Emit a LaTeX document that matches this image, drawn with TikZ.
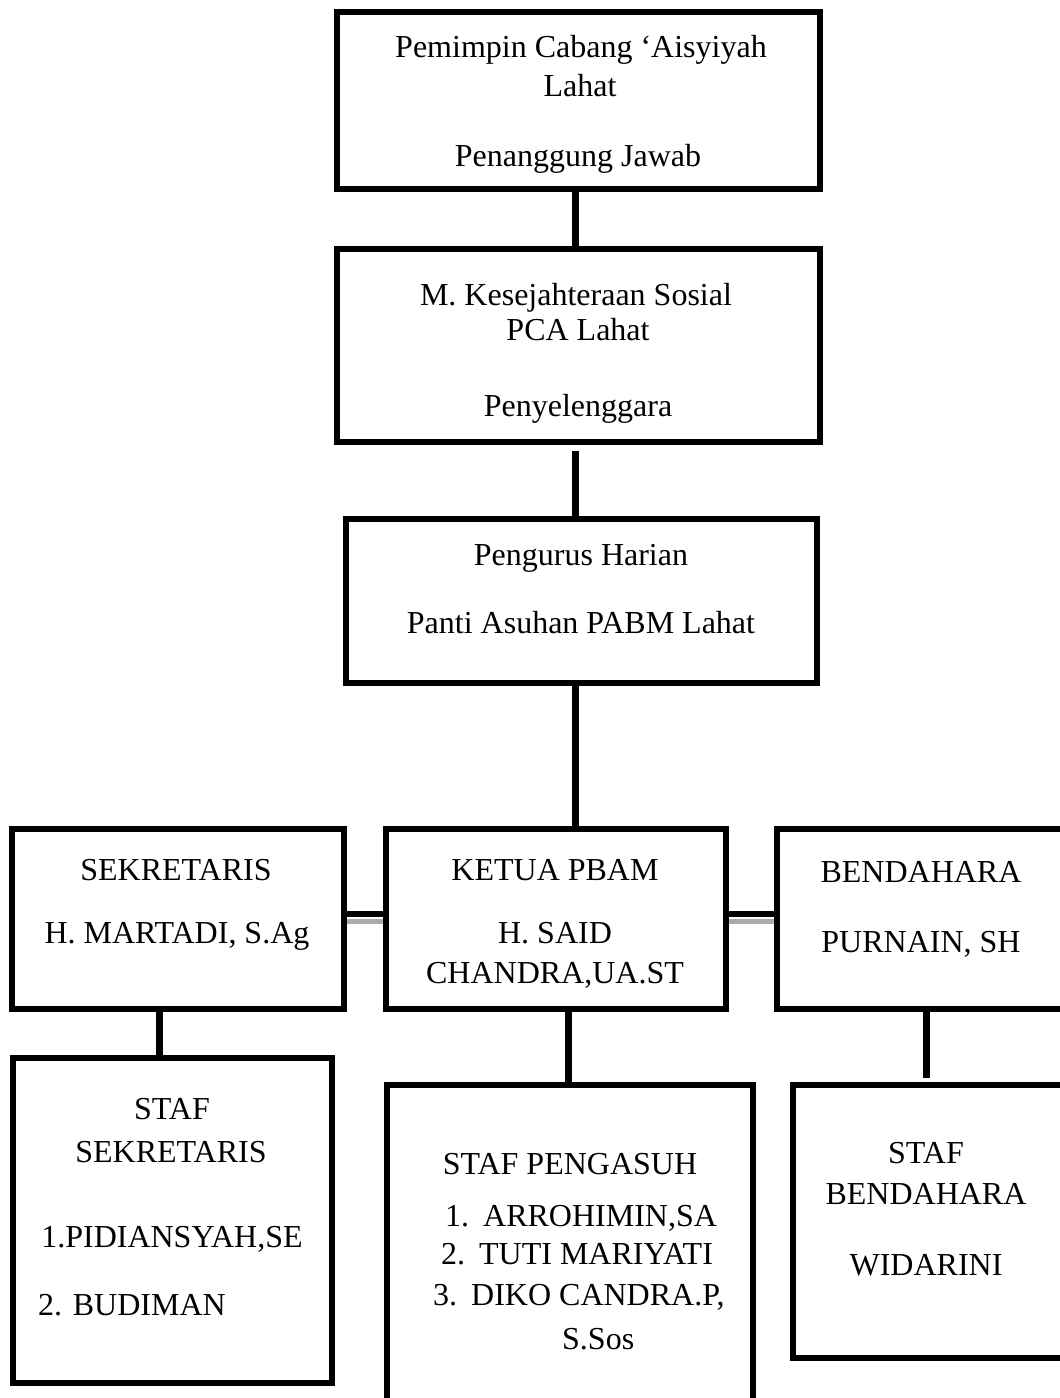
\documentclass[tikz,border=0pt]{standalone}
\usepackage{fontspec}
\setmainfont{Liberation Serif}
\usetikzlibrary{calc}
\begin{document}
\begin{tikzpicture}[x=1pt,y=-1pt,
  box/.style={draw, line width=6pt, inner sep=0pt, fill=white},
  txt/.style={anchor=base, inner sep=0pt, font=\fontsize{32}{38}\selectfont},
  txtw/.style={anchor=base west, inner sep=0pt, font=\fontsize{32}{38}\selectfont},
  link/.style={line width=7pt},
  hlink/.style={line width=6pt},
  shade/.style={line width=5pt, draw=black!33}]
\useasboundingbox (0,0) rectangle (1060,1398);
\clip (0,0) rectangle (1060,1398);

% boxes
\node[box, minimum width=483.5, minimum height=177] (b1) at (578.25,100) {};
\node[box, minimum width=483.5, minimum height=193] (b2) at (578.25,345) {};
\node[box, minimum width=471, minimum height=164.5] (b3) at (581.5,600.75) {};
\node[box, minimum width=332, minimum height=180] (sek) at (177.6,919) {};
\node[box, minimum width=340, minimum height=180] (ket) at (555.5,919) {};
\node[box, minimum width=293, minimum height=180] (ben) at (923.5,919) {};
\node[box, minimum width=319.5, minimum height=325] (ssek) at (172.7,1220) {};
\node[box, minimum width=366.5, minimum height=365.5] (speng) at (569.75,1267.25) {};
\node[box, minimum width=277, minimum height=273.5] (sben) at (931.5,1221.25) {};

% connectors
\draw[link] (b1.south -| 575,0) -- (b2.north -| 575,0);
\draw[link] ($(b2.south -| 575.5,0)+(0,6)$) -- (b3.north -| 575.5,0);
\draw[link] (b3.south -| 575.5,0) -- (ket.north -| 575.5,0);
\draw[link] (sek.south -| 159,0) -- (ssek.north -| 159,0);
\draw[link] (ket.south -| 568,0) -- (speng.north -| 568,0);
\draw[link] (ben.south -| 926,0) -- ($(sben.north -| 926,0)+(0,-4)$);
\draw[shade] (sek.east |- 0,921.5) -- (ket.west |- 0,921.5);
\draw[hlink] (sek.east |- 0,914) -- (ket.west |- 0,914);
\draw[shade] (ket.east |- 0,921.5) -- (ben.west |- 0,921.5);
\draw[hlink] (ket.east |- 0,914) -- (ben.west |- 0,914);

% texts
\node[txt] (t1a) at (581,57) {Pemimpin Cabang ‘Aisyiyah};
\node[txt] (t1b) at (580,96) {Lahat};
\node[txt] (t1c) at (578,166) {Penanggung Jawab};
\node[txt] (t2a) at (576,305) {M. Kesejahteraan Sosial};
\node[txt] (t2b) at (578,340) {PCA Lahat};
\node[txt] (t2c) at (578,416) {Penyelenggara};
\node[txt] (t3a) at (581,565) {Pengurus Harian};
\node[txt] (t3b) at (581,633) {Panti Asuhan PABM Lahat};

\node[txt] (s1) at (176,880) {SEKRETARIS};
\node[txt] (s2) at (177,943) {H. MARTADI, S.Ag};
\node[txt] (k1) at (555,880) {KETUA PBAM};
\node[txt] (k2) at (555,943) {H. SAID};
\node[txt] (k3) at (555,983) {CHANDRA,UA.ST};
\node[txt] (d1) at (921,882) {BENDAHARA};
\node[txt] (d2) at (921,952) {PURNAIN, SH};

\node[txt] (ss1) at (172,1119) {STAF};
\node[txt] (ss2) at (171,1162) {SEKRETARIS};
\node[txt] (ss3) at (172,1247) {1.PIDIANSYAH,SE};
\node[txtw] (ss4) at (38,1315) {2. BUDIMAN};

\node[txt] (sp1) at (570,1174) {STAF PENGASUH};
\node[txtw] (sp2) at (445,1226) {1.\hspace{14pt}ARROHIMIN,SA};
\node[txtw] (sp3) at (441,1264) {2.\hspace{14pt}TUTI MARIYATI};
\node[txtw] (sp4) at (433,1305) {3.\hspace{14pt}DIKO CANDRA.P,};
\node[txtw] (sp5) at (562,1349) {S.Sos};

\node[txt] (sb1) at (926,1163) {STAF};
\node[txt] (sb2) at (926,1204) {BENDAHARA};
\node[txt] (sb3) at (926,1275) {WIDARINI};
\end{tikzpicture}
\end{document}
